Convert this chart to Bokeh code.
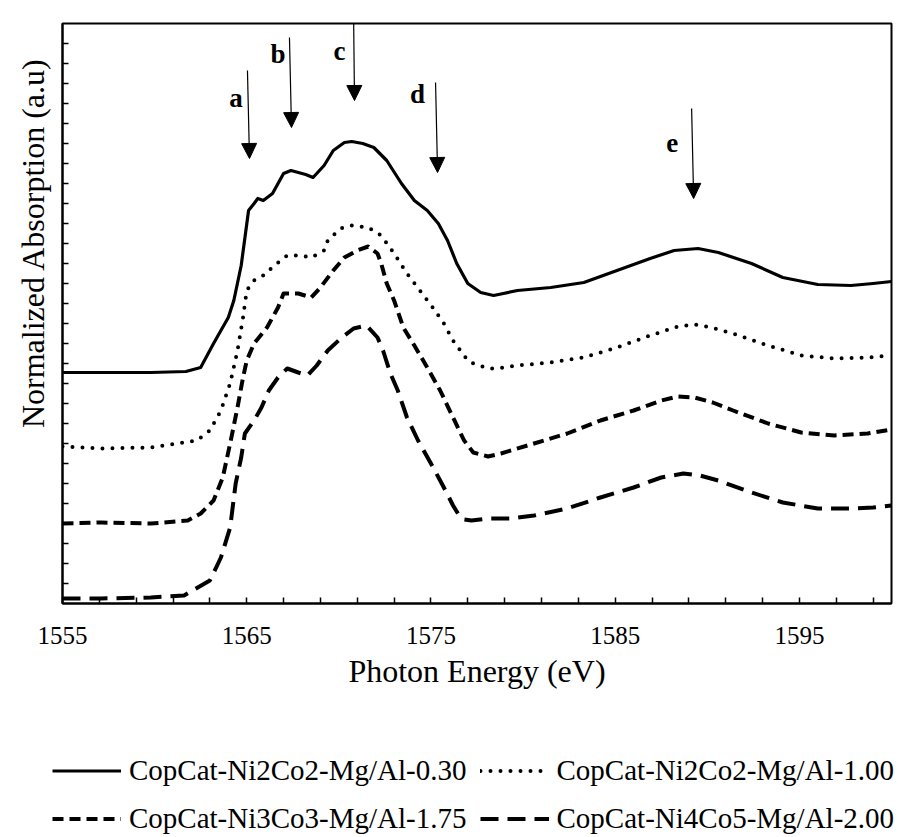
import math
from bokeh.plotting import figure
from bokeh.models import (Range1d, FixedTicker, Legend, LegendItem, Arrow, NormalHead,
                          ColumnDataSource, Title, CustomJSTickFormatter)
from bokeh.core.properties import value
from bokeh.embed import file_html
from bokeh.resources import INLINE

# ---------------- data ----------------
series_names = ["CopCat-Ni2Co2-Mg/Al-0.30", "CopCat-Ni2Co2-Mg/Al-1.00",
                "CopCat-Ni3Co3-Mg/Al-1.75", "CopCat-Ni4Co5-Mg/Al-2.00"]

energy_a = [1555.0, 1557.0, 1559.8, 1561.7, 1562.5, 1563.2, 1564.0, 1564.3, 1564.7, 1565.1,
            1565.4, 1565.6, 1565.9, 1566.4, 1567.0, 1567.4, 1567.8, 1568.2, 1568.6, 1569.2,
            1569.7, 1570.3, 1570.7, 1571.3, 1571.9, 1572.6, 1573.4, 1574.1, 1574.8, 1575.4,
            1575.9, 1576.4, 1577.0, 1577.7, 1578.4, 1579.7, 1581.5, 1583.3, 1585.1, 1586.9,
            1588.2, 1589.5, 1590.6, 1592.4, 1594.1, 1596.0, 1597.8, 1599.0, 1600.0]
absorb_a = [11.55, 11.55, 11.55, 11.6, 11.8, 13.0, 14.3, 15.15, 16.9, 19.65,
            20.0, 20.25, 20.15, 20.5, 21.5, 21.65, 21.55, 21.45, 21.3, 21.9,
            22.65, 23.05, 23.1, 23.0, 22.8, 22.15, 21.0, 20.15, 19.65, 19.0,
            18.15, 17.0, 16.0, 15.55, 15.4, 15.65, 15.8, 16.05, 16.65, 17.25,
            17.65, 17.75, 17.55, 17.0, 16.3, 15.95, 15.9, 16.0, 16.1]

energy_b = [1555.0, 1557.1, 1559.8, 1562.3, 1563.0, 1563.6, 1564.1, 1564.5, 1564.8, 1565.0,
            1565.4, 1565.9, 1566.5, 1567.2, 1567.9, 1568.5, 1569.2, 1569.4, 1570.1, 1570.7,
            1571.6, 1572.3, 1573.0, 1573.7, 1574.4, 1575.1, 1575.7, 1576.2, 1576.6, 1577.0,
            1577.3, 1578.1, 1578.6, 1579.7, 1581.5, 1583.3, 1585.1, 1586.9, 1588.4, 1589.3,
            1590.2, 1591.4, 1593.3, 1595.1, 1596.9, 1598.7, 1600.0]
absorb_b = [7.85, 7.75, 7.8, 8.15, 8.65, 9.65, 11.0, 12.65, 14.3, 15.65,
            16.15, 16.4, 16.9, 17.4, 17.4, 17.3, 17.65, 18.15, 18.75, 18.9,
            18.8, 18.4, 17.5, 16.5, 15.65, 14.8, 14.0, 13.15, 12.65, 12.15,
            12.0, 11.75, 11.75, 11.9, 12.05, 12.3, 12.8, 13.4, 13.85, 13.95,
            13.8, 13.5, 12.9, 12.4, 12.25, 12.3, 12.4]

energy_c = [1555.0, 1557.1, 1559.8, 1561.8, 1562.5, 1563.2, 1563.7, 1564.1, 1564.5, 1564.8,
            1565.0, 1565.4, 1566.1, 1566.7, 1567.0, 1567.8, 1568.5, 1569.0, 1569.7, 1570.3,
            1571.0, 1571.6, 1572.1, 1572.3, 1572.6, 1573.0, 1573.5, 1574.1, 1574.8, 1575.5,
            1576.2, 1576.8, 1577.3, 1578.1, 1578.8, 1580.6, 1582.4, 1584.2, 1586.0, 1587.5,
            1588.4, 1589.3, 1590.3, 1591.4, 1593.3, 1595.1, 1596.9, 1598.7, 1600.0]
absorb_c = [4.0, 4.05, 4.0, 4.15, 4.5, 5.15, 6.3, 8.0, 9.8, 11.3,
            12.15, 13.0, 13.8, 14.8, 15.5, 15.5, 15.3, 15.8, 16.65, 17.3,
            17.65, 17.85, 17.5, 17.0, 16.0, 15.15, 13.8, 12.9, 11.8, 10.65,
            9.3, 8.15, 7.55, 7.35, 7.5, 8.0, 8.5, 9.15, 9.65, 10.15,
            10.35, 10.3, 10.05, 9.65, 9.0, 8.55, 8.4, 8.5, 8.7]

energy_d = [1555.0, 1557.1, 1559.8, 1561.6, 1563.0, 1563.6, 1564.1, 1564.4, 1564.7, 1564.9,
            1565.4, 1565.8, 1566.2, 1566.7, 1567.2, 1567.8, 1568.3, 1568.8, 1569.4, 1570.1,
            1570.8, 1571.5, 1572.1, 1572.4, 1572.8, 1573.2, 1573.7, 1574.3, 1575.0, 1575.5,
            1575.9, 1576.2, 1576.5, 1576.8, 1577.2, 1578.1, 1579.3, 1580.6, 1582.4, 1584.2,
            1586.0, 1587.5, 1588.7, 1589.6, 1590.6, 1592.4, 1594.1, 1596.0, 1597.8, 1599.0,
            1600.0]
absorb_d = [0.25, 0.25, 0.3, 0.4, 1.15, 2.3, 3.8, 6.0, 7.3, 8.5,
            9.15, 9.8, 10.65, 11.3, 11.75, 11.55, 11.4, 11.9, 12.65, 13.25,
            13.75, 13.9, 13.3, 12.65, 11.5, 10.65, 9.3, 8.15, 7.0, 6.15,
            5.45, 4.9, 4.45, 4.2, 4.15, 4.25, 4.25, 4.4, 4.75, 5.3,
            5.8, 6.3, 6.5, 6.4, 6.15, 5.55, 5.05, 4.75, 4.75, 4.8,
            4.9]

series_energy = [energy_a, energy_b, energy_c, energy_d]
series_absorb = [absorb_a, absorb_b, absorb_c, absorb_d]

# peak markers a-e
marker_letters = ["a", "b", "c", "d", "e"]
marker_label_x = [1564.42, 1566.70, 1570.04, 1574.27, 1588.10]
marker_label_y = [25.3, 27.5, 27.65, 25.5, 23.05]
arrow_x_start = [1565.04, 1567.32, 1570.80, 1575.25, 1589.15]
arrow_x_end = [1565.15, 1567.43, 1570.85, 1575.36, 1589.26]
arrow_y_start = [26.65, 28.3, 29.55, 26.05, 24.75]
arrow_y_end = [22.25, 23.8, 25.15, 21.55, 20.25]

x_major_ticks = [1555, 1565, 1575, 1585, 1595]
x_minor_ticks = [t for t in range(1557, 1600, 2) if t not in x_major_ticks]
y_ticks = list(range(1, 29))

# ---------------- styles ----------------
SERIF = "Liberation Serif"
line_styles = [dict(line_width=3.2, line_join="round"),
               dict(line_width=4, line_dash="0 10", line_cap="round", line_join="round"),
               dict(line_width=4, line_dash="11 6", line_join="round"),
               dict(line_width=4, line_dash="18 9", line_join="round")]

# ---------------- main figure ----------------
p = figure(width=898, height=700, output_backend="svg", toolbar_location=None,
           x_range=Range1d(1555, 1600), y_range=Range1d(0, 29),
           min_border_left=62, min_border_right=7, min_border_top=23, min_border_bottom=97)
p.background_fill_color = "white"
p.border_fill_color = "white"
p.xgrid.visible = False
p.ygrid.visible = False
p.outline_line_color = "black"
p.outline_line_width = 2

xa = p.xaxis[0]
xa.ticker = FixedTicker(ticks=x_major_ticks, minor_ticks=x_minor_ticks)
xa.axis_line_width = 2
xa.major_tick_in = 6
xa.major_tick_out = 0
xa.minor_tick_in = 6
xa.minor_tick_out = 0
xa.major_tick_line_width = 1.5
xa.minor_tick_line_width = 1.5
xa.major_label_text_font = SERIF
xa.major_label_text_font_size = "25px"
xa.major_label_text_color = "black"
xa.major_label_standoff = 23
xa.axis_label = "Photon Energy (eV)"
xa.axis_label_text_font = SERIF
xa.axis_label_text_font_size = "32px"
xa.axis_label_text_font_style = "normal"
xa.axis_label_text_color = "black"
xa.axis_label_standoff = 6

ya = p.yaxis[0]
ya.ticker = FixedTicker(ticks=y_ticks)
ya.formatter = CustomJSTickFormatter(code="return ''")
ya.axis_line_width = 2
ya.major_tick_in = 6
ya.major_tick_out = 0
ya.minor_tick_line_color = None
ya.major_tick_line_width = 1.5
ya.major_label_standoff = 0

for ex, ab, st in zip(series_energy, series_absorb, line_styles):
    p.line(ex, ab, line_color="black", **st)

arrow_src = ColumnDataSource(dict(x0=arrow_x_start, y0=arrow_y_start,
                                  x1=arrow_x_end, y1=arrow_y_end))
p.add_layout(Arrow(source=arrow_src, x_start="x0", y_start="y0", x_end="x1", y_end="y1",
                   line_color="black", line_width=1.2,
                   end=NormalHead(size=15, fill_color="black", line_color="black", line_width=1)))

p.text(x=marker_label_x, y=marker_label_y, text=marker_letters,
       text_font=value(SERIF), text_font_style="bold", text_font_size="27px",
       text_align="center", text_baseline="alphabetic", text_color="black")

p.add_layout(Title(text="Normalized Absorption (a.u)", align="right", offset=34,
                   vertical_align="bottom",
                   text_font=SERIF, text_font_size="32px", text_font_style="normal",
                   text_color="black", standoff=24), "left")

# ---------------- legend strip (separate root, placed under the chart) ----------------
lg = figure(width=898, height=137, output_backend="svg", toolbar_location=None,
            x_range=Range1d(0, 1), y_range=Range1d(0, 1),
            x_axis_type=None, y_axis_type=None,
            min_border_left=0, min_border_right=0, min_border_top=0, min_border_bottom=0)
lg.outline_line_color = None
lg.xgrid.visible = False
lg.ygrid.visible = False
lg.background_fill_color = "white"
lg.border_fill_color = "white"

items = []
for name, ex, ab, st in zip(series_names, series_energy, series_absorb, line_styles):
    r = lg.line(ex, ab, line_color="black", **st)   # same series; outside this strip's view
    items.append(LegendItem(label=name, renderers=[r]))

legend = Legend(items=items, orientation="horizontal", ncols=2,
                location=(52, 1.5), glyph_width=69, glyph_height=35, label_height=35,
                spacing=13, padding=0, margin=0, label_standoff=8,
                label_text_font=SERIF, label_text_font_size="29px", label_text_color="black",
                border_line_alpha=0, background_fill_alpha=0)
lg.add_layout(legend)

open("out.html", "w").write(file_html([p, lg], INLINE))
